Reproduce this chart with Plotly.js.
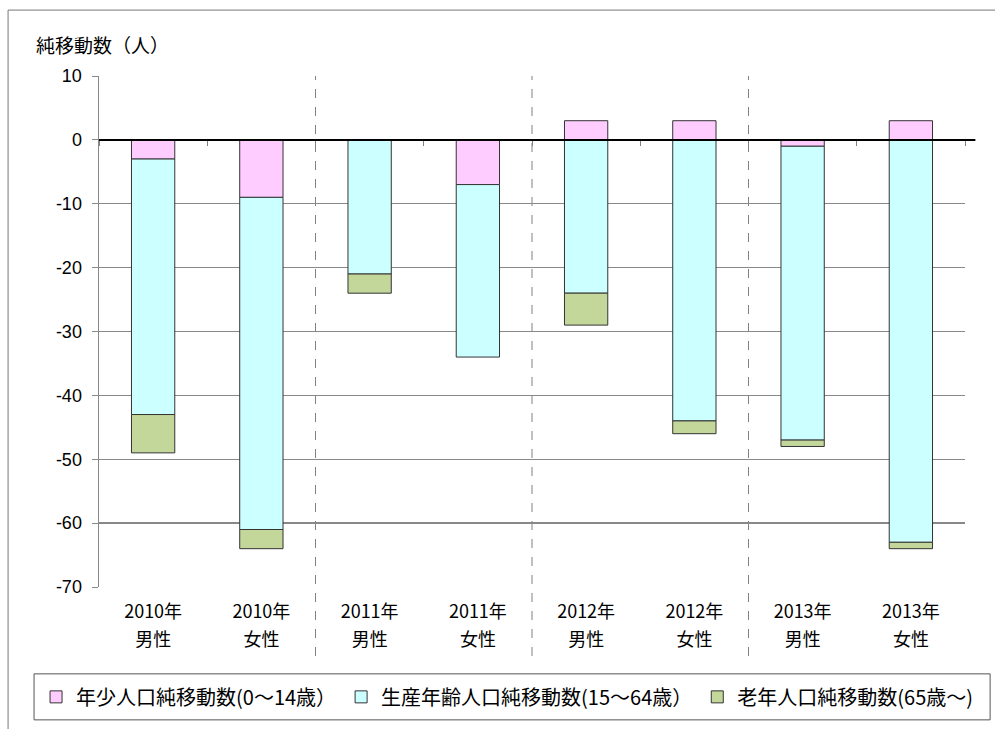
<!DOCTYPE html>
<html>
<head>
<meta charset="utf-8">
<script src="https://cdn.plot.ly/plotly-3.0.1.min.js"></script>
<style>html,body{margin:0;padding:0;background:#fff;}#chart{width:995px;height:729px;}</style>
</head>
<body>
<div id="chart"></div>
<script>
const years = ["2010年","2010年","2011年","2011年","2012年","2012年","2013年","2013年"];
const genders = ["男性","女性","男性","女性","男性","女性","男性","女性"];
const seriesNames = ["年少人口純移動数(0～14歳）","生産年齢人口純移動数(15～64歳）","老年人口純移動数(65歳～)"];
const young = [-3, -9, 0, -7, 3, 3, -1, 3];
const working = [-40, -52, -21, -27, -24, -44, -46, -63];
const old = [-6, -3, -3, 0, -5, -2, -1, -1];
const yTicks = [10, 0, -10, -20, -30, -40, -50, -60, -70];
const separators = [1.5, 3.5, 5.5];
const boundaries = [-0.5, 0.5, 1.5, 2.5, 3.5, 4.5, 5.5, 6.5, 7.5];

const colors = ["#FFCCFF", "#CCFFFF", "#C4D79B"];
const jp = "Noto Sans CJK JP";
const xIdx = years.map((_, i) => i);

const traces = [young, working, old].map((vals, k) => ({
  type: "bar",
  x: xIdx,
  y: vals,
  name: seriesNames[k],
  marker: {color: colors[k], line: {color: "#333333", width: 1}},
  hoverinfo: "skip"
}));

// overlay axis for tick marks on the zero line
traces.push({type: "scatter", x: [0], y: [0], xaxis: "x2", yaxis: "y", mode: "markers",
  marker: {opacity: 0}, showlegend: false, hoverinfo: "skip"});
// overlay axis for the second line of category labels
traces.push({type: "scatter", x: [0], y: [0], xaxis: "x3", yaxis: "y", mode: "markers",
  marker: {opacity: 0}, showlegend: false, hoverinfo: "skip"});

const shapes = [];
separators.forEach(s => shapes.push({type: "line", xref: "x", yref: "paper", x0: s, x1: s, y0: -0.135, y1: 1,
  line: {color: "#808080", width: 1, dash: "dash"}, layer: "below"}));
// zero line (extends slightly past the plot)
shapes.push({type: "line", xref: "paper", yref: "y", x0: 0, x1: 1.012, y0: 0, y1: 0, line: {color: "#000", width: 2}});
// legend box
shapes.push({type: "rect", xref: "paper", yref: "paper", x0: -0.075, x1: 1.029, y0: -0.260, y1: -0.170,
  line: {color: "#555", width: 1}, fillcolor: "rgba(0,0,0,0)"});
// outer chart border
shapes.push({type: "rect", xref: "paper", yref: "paper", x0: -0.105, x1: 1.2, y0: -0.4, y1: 1.129,
  line: {color: "#777", width: 1}, fillcolor: "rgba(0,0,0,0)"});

const tickFont = {family: jp, size: 18, color: "#000"};

const layout = {
  width: 995, height: 729,
  margin: {l: 99, r: 30, t: 76, b: 142},
  paper_bgcolor: "#fff", plot_bgcolor: "#fff",
  barmode: "relative", bargap: 0.6,
  showlegend: true,
  legend: {orientation: "h", x: -0.0727, y: -0.215, yanchor: "middle", xanchor: "left",
    font: {family: jp, size: 20, color: "#000"}, bgcolor: "rgba(0,0,0,0)", borderwidth: 0,
    itemclick: false, traceorder: "normal"},
  xaxis: {range: [-0.5, 7.5], tickvals: xIdx, ticktext: years, showgrid: false, zeroline: false,
    showline: false, ticks: "", tickfont: tickFont, ticklabelstandoff: 12, fixedrange: true},
  xaxis2: {overlaying: "x", anchor: "free", position: 0.875, range: [-0.5, 7.5], tickvals: boundaries,
    showticklabels: false, ticks: "outside", ticklen: 5, tickcolor: "#808080", tickwidth: 1,
    showline: false, showgrid: false, zeroline: false, side: "bottom", fixedrange: true},
  xaxis3: {overlaying: "x", anchor: "free", position: 0, range: [-0.5, 7.5], tickvals: xIdx, ticktext: genders,
    ticks: "", showline: false, showgrid: false, zeroline: false, side: "bottom",
    tickfont: tickFont, ticklabelstandoff: 40, fixedrange: true},
  yaxis: {range: [-70, 10], tickvals: yTicks, ticktext: yTicks.map(String), ticks: "outside", ticklen: 6,
    tickcolor: "#888", tickwidth: 1,
    showline: true, linecolor: "#888", linewidth: 1.5, gridcolor: "#888", gridwidth: 1.3, zeroline: false,
    tickfont: {family: "Liberation Sans, Arial", size: 18, color: "#000"}, ticklabelstandoff: 6, fixedrange: true},
  shapes: shapes,
  annotations: [{text: "純移動数（人）", xref: "paper", yref: "paper", x: -0.075, y: 1.061, xanchor: "left", yanchor: "middle",
    showarrow: false, font: {family: jp, size: 19, color: "#000"}}]
};

Plotly.newPlot("chart", traces, layout, {displayModeBar: false, staticPlot: true});
</script>
</body>
</html>
